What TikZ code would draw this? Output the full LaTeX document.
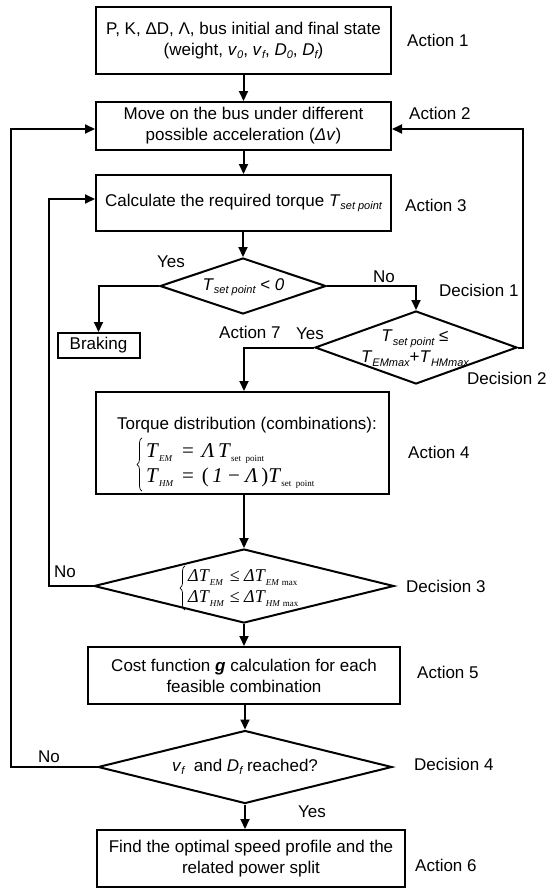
\documentclass[tikz,border=0pt]{standalone}
\usepackage{fontspec}
\setmainfont{Liberation Sans}
\newfontfamily\tms{Liberation Serif}
\usetikzlibrary{shapes.geometric,arrows.meta,decorations.pathreplacing}
\newcommand\lsub[1]{\raisebox{-3.5pt}{\fontsize{11}{11}\selectfont\itshape #1}}
\newcommand\esub[1]{\raisebox{-4pt}{\fontsize{9}{9}\selectfont\itshape #1}}
\newcommand\rsub[1]{\raisebox{-4pt}{\fontsize{9}{9}\selectfont\upshape #1}}
\newcommand\fs{\fontsize{17}{21}\selectfont}
\begin{document}
\begin{tikzpicture}[x=1pt,y=-1pt,
  box/.style={draw, line width=2pt, inner sep=0pt, align=center, font=\fs},
  dia/.style={draw, diamond, line width=2pt, inner sep=0pt},
  txt/.style={inner sep=0pt, align=center, font=\fs},
  lab/.style={inner sep=0pt, font=\fs, anchor=west},
  arr/.style={line width=2pt, -{Triangle[length=10pt,width=9pt]}},
  brc/.style={line width=0.7pt, decorate, decoration={brace, amplitude=5pt}}]
\useasboundingbox (0,0) rectangle (549,891);
% boxes
\node[box, minimum width=295pt, minimum height=67pt] (b1) at (243.5,40.5)
  {P, K, ΔD, Λ, bus initial and final state\\(weight, \textit{v}\lsub{0}, \textit{v}\lsub{f}, \textit{D}\lsub{0}, \textit{D}\lsub{f})};
\node[box, minimum width=295pt, minimum height=48pt] (b2) at (243.5,126)
  {Move on the bus under different\\possible acceleration (\textit{Δv})};
\node[box, minimum width=295pt, minimum height=56pt] (b3) at (243.5,203)
  {Calculate the required torque \textit{T}\lsub{set point}};
\node[dia, minimum width=166pt, minimum height=56pt] (d1) at (243,286) {};
\node[txt] (d1t) at (243.5,287) {\textit{T}\lsub{set point} < \textit{0}};
\node[box, minimum width=82pt, minimum height=25pt] (brk) at (98.5,345.5) {Braking};
\node[dia, minimum width=202pt, minimum height=73pt] (d2) at (416,347.5) {};
\node[txt] (d2t) at (415,348) {\textit{T}\lsub{set point} ≤\\\textit{T}\lsub{EMmax}+\textit{T}\lsub{HMmax}};
\node[box, minimum width=293pt, minimum height=102pt] (b4) at (242.5,443) {};
\node[txt] (b4t) at (247,425) {Torque distribution (combinations):};
\node[inner sep=0pt, anchor=west] (b4e) at (146,465)
  {\tms\fontsize{21}{25}\selectfont\begin{tabular}{@{}l@{\hspace{9pt}}l@{\hspace{8pt}}l@{}}
   \textit{T}\esub{EM} & = & \textit{Λ}\,\textit{T}\rsub{set\ \ point}\\
   \textit{T}\esub{HM} & = & (\,\textit{1} − \textit{Λ}\,)\textit{T}\rsub{set\ \ point}
   \end{tabular}};
\draw[brc] ([xshift=-4pt,yshift=-1pt]b4e.south west) -- ([xshift=-4pt,yshift=2pt]b4e.north west);
\node[dia, minimum width=300pt, minimum height=74pt] (d3) at (244,586) {};
\node[inner sep=0pt, anchor=west] (d3t) at (188,588)
  {\tms\fontsize{18}{21}\selectfont\begin{tabular}{@{}l@{\hspace{6pt}}l@{}}
   \textit{ΔT}\esub{EM} & ≤ \textit{ΔT}\esub{EM}\,\rsub{max}\\
   \textit{ΔT}\esub{HM} & ≤ \textit{ΔT}\esub{HM}\,\rsub{max}
   \end{tabular}};
\draw[brc] ([xshift=-3pt,yshift=-1pt]d3t.south west) -- ([xshift=-3pt,yshift=1pt]d3t.north west);
\node[box, minimum width=312pt, minimum height=57pt] (b5) at (244,675.5)
  {Cost function \textbf{\textit{g}} calculation for each\\feasible combination};
\node[dia, minimum width=294pt, minimum height=73pt] (d4) at (245,767) {};
\node[txt] (d4t) at (245,767) {\textit{v}\lsub{f}\ \ and \textit{D}\lsub{f} reached?};
\node[box, minimum width=308pt, minimum height=57pt] (b6) at (251,858.5)
  {Find the optimal speed profile and the\\related power split};
% labels
\node[lab] (a1) at (407,40) {Action 1};
\node[lab] (a2) at (409,113) {Action 2};
\node[lab] (a3) at (405,205) {Action 3};
\node[lab] (de1) at (439,290) {Decision 1};
\node[lab] (a7) at (219,332) {Action 7};
\node[lab] (de2) at (467,378) {Decision 2};
\node[lab] (a4) at (408,452) {Action 4};
\node[lab] (de3) at (406,586) {Decision 3};
\node[lab] (a5) at (417,672) {Action 5};
\node[lab] (de4) at (414,764) {Decision 4};
\node[lab] (a6) at (415,865) {Action 6};
\node[txt] (y1) at (171,262) {Yes};
\node[txt] (n1) at (384,277) {No};
\node[txt] (y2) at (310,334) {Yes};
\node[txt] (n3) at (65,572) {No};
\node[txt] (n4) at (49,757) {No};
\node[txt] (y4) at (312,812) {Yes};
% loop coordinates
\coordinate (rl) at (523,129);
\coordinate (ll) at (10.5,129);
\coordinate (il) at (49,199);
% connectors
\draw[arr] (b1) -- (b2);
\draw[arr] (b2) -- (b3);
\draw[arr] (b3.south -| d1.north) -- (d1.north);
\draw[arr] (d1.west) -| (brk.north);
\draw[arr] (d1.east) -| (d2.north);
\draw[arr] (d2.west) -| (b4.north -| d3.north);
\draw[arr] (b4.south -| d3.north) -- (d3.north);
\draw[arr] (d3.south) -- (d3.south |- b5.north);
\draw[arr] (d4.north |- b5.south) -- (d4.north);
\draw[arr] (d4.south) -- (d4.south |- b6.north);
\draw[arr] (d2.east) -| (rl) -- (rl -| b2.east);
\draw[arr] (d4.west) -| (ll) -- (ll -| b2.west);
\draw[arr] (d3.west) -| (il) -- (il -| b3.west);
\end{tikzpicture}
\end{document}
